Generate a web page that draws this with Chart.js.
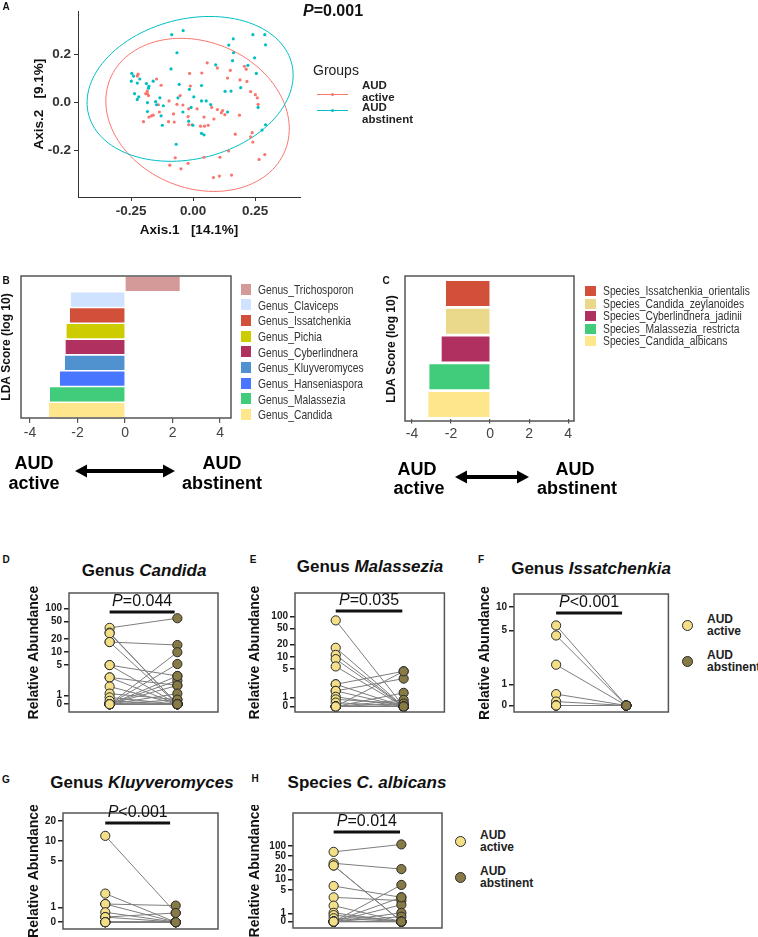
<!DOCTYPE html>
<html>
<head>
<meta charset="utf-8">
<script src="https://cdn.jsdelivr.net/npm/chart.js@4.4.1/dist/chart.umd.min.js"></script>
<style>
  body { margin: 0; width: 758px; height: 937px; position: relative; overflow: hidden; background: #fff;
         font-family: 'Liberation Sans', Arial, sans-serif; color: #111; }
  canvas { position: absolute; }
  .txt { position: absolute; white-space: nowrap; line-height: 1; transform-origin: 0 50%; }
  .key { position: absolute; }
</style>
</head>
<body>
<script>
// ---------------- data ----------------
// A: PCoA, [Axis.1, Axis.2]
const activePoints = [[-0.222,0.118],[-0.147,0.098],[-0.129,0.072],[-0.185,0.048],[-0.191,0.037],[-0.180,0.029],[-0.097,0.007],[-0.065,-0.007],[-0.041,-0.010],[-0.079,-0.047],[-0.018,-0.026],[0.016,-0.026],[0.075,-0.020],[0.098,-0.029],[0.119,-0.033],[0.114,-0.042],[0.128,-0.050],[0.084,-0.068],[0.044,-0.060],[-0.020,-0.058],[-0.076,-0.081],[-0.099,-0.079],[-0.200,-0.079],[-0.178,-0.060],[-0.168,-0.055],[-0.161,-0.052],[-0.136,-0.039],[-0.018,-0.092],[-0.004,-0.092],[0.030,-0.098],[0.046,-0.098],[0.061,-0.094],[0.170,-0.131],[0.238,-0.125],[0.232,-0.142],[0.241,-0.164],[0.187,-0.052],[0.232,0.046],[0.251,0.033],[0.259,0.020],[0.262,-0.007],[0.217,0.088],[0.189,0.094],[0.207,0.151],[0.214,0.139],[0.150,0.134],[0.139,0.102],[0.098,0.144],[0.057,0.165],[0.035,0.123],[-0.014,0.121],[-0.011,0.069],[-0.052,0.029],[0.266,-0.236],[0.289,-0.216],[0.143,-0.201],[0.108,-0.227],[0.044,-0.227],[-0.072,-0.229],[-0.094,-0.260],[-0.049,-0.275],[-0.020,-0.252],[0.082,-0.311],[0.106,-0.305],[0.155,-0.301],[-0.184,0.037],[-0.140,-0.009],[-0.225,0.110]];
const abstinentPoints = [[-0.086,0.282],[-0.040,0.299],[0.162,0.265],[0.241,0.282],[0.289,0.282],[0.292,0.240],[0.144,0.239],[-0.065,0.207],[0.163,0.207],[0.248,0.186],[0.091,0.157],[0.159,0.174],[-0.089,0.140],[0.221,0.155],[0.255,0.121],[-0.247,0.121],[-0.240,0.110],[-0.249,0.089],[-0.215,0.098],[-0.225,0.081],[-0.188,0.079],[-0.178,0.068],[-0.161,0.089],[-0.056,0.076],[0.034,0.071],[-0.015,0.055],[0.153,0.048],[0.192,0.062],[0.129,0.047],[-0.236,0.037],[-0.219,0.024],[-0.225,0.013],[-0.134,0.020],[-0.184,0.000],[-0.151,0.004],[-0.147,-0.009],[-0.120,-0.013],[-0.061,0.020],[-0.008,-0.020],[0.034,0.007],[0.053,0.007],[0.071,-0.008],[-0.041,-0.039],[-0.184,-0.037],[-0.129,-0.055],[0.139,-0.039],[0.262,-0.020],[-0.124,-0.094],[-0.018,-0.077],[-0.001,-0.094],[0.034,-0.128],[0.044,-0.134],[-0.068,-0.173],[0.292,-0.092],[0.278,-0.114],[0.003,0.024],[-0.180,0.060]];
// confidence ellipses: centre x, centre y, semi-axis a, semi-axis b, angle (deg)
const activeEllipse = [0.018, -0.051, 0.383, 0.302, -25];
const abstinentEllipse = [-0.012, 0.057, 0.423, 0.290, 15];

// B: LEfSe genus
const genusLabels = ['Genus_Trichosporon','Genus_Claviceps','Genus_Issatchenkia','Genus_Pichia','Genus_Cyberlindnera','Genus_Kluyveromyces','Genus_Hanseniaspora','Genus_Malassezia','Genus_Candida'];
const genusLda = [2.3, -2.28, -2.32, -2.46, -2.5, -2.53, -2.74, -3.16, -3.2];
const genusColors = ['#d49a9a','#cfe2ff','#d2503a','#cccc00','#b03060','#4f92cf','#4876ff','#40cc7a','#fde68c'];

// C: LEfSe species
const speciesLabels = ['Species_Issatchenkia_orientalis','Species_Candida_zeylanoides','Species_Cyberlindnera_jadinii','Species_Malassezia_restricta','Species_Candida_albicans'];
const speciesLda = [-2.26, -2.26, -2.48, -3.11, -3.16];
const speciesColors = ['#d2503a','#ead98b','#b03060','#40cc7a','#fde68c'];
const ldaTicks = [-4, -2, 0, 2, 4];

// D-H: paired relative abundance (active -> abstinent)
const candidaActive    = [36, 28, 27, 17, 17, 5, 5, 2.6, 2.6, 1.6, 1.1, 0.9, 0.75, 0, 0, 0, 0, 0, 0, 0, 0, 0, 0, 0, 0, 0];
const candidaAbstinent = [60, 0, 0, 14.5, 0, 2.8, 0, 1.7, 0, 0, 0.8, 0, 0, 9.9, 5.3, 2.2, 1.7, 1.1, 2.8, 0.8, 0, 0, 0, 0, 0, 0];
const malasseziaActive    = [80, 16.8, 11.2, 8.8, 5.8, 2.1, 2.1, 1.44, 1.44, 1.03, 0.89, 0.74, 0, 0, 0, 0, 0, 0, 0, 0, 0];
const malasseziaAbstinent = [0, 0, 0, 0, 0, 4.4, 0, 2.9, 0, 0, 0.7, 0, 4.4, 1.29, 0.86, 0.7, 0, 0, 0, 0, 0];
const issatchenkiaActive    = [5.8, 4.3, 1.8, 0.75, 0.6, 0, 0, 0, 0];
const issatchenkiaAbstinent = [0, 0, 0, 0, 0, 0, 0, 0, 0];
const kluyveromycesActive    = [11.9, 1.62, 1.13, 1.13, 0.85, 0.72, 0.72, 0, 0, 0, 0, 0, 0];
const kluyveromycesAbstinent = [0.83, 0, 1.07, 0, 0, 0, 0.83, 0, 0, 0, 0, 0, 0];
const albicansActive    = [66.7, 30.7, 26.3, 26.3, 6.5, 3.0, 1.7, 1.04, 0.89, 0.72, 0, 0, 0, 0, 0, 0, 0, 0, 0, 0];
const albicansAbstinent = [111, 20.6, 0, 0, 3.0, 2.4, 0, 0, 0, 0, 7.0, 1.8, 1.04, 0.8, 3.0, 0, 0, 0, 0, 0];
const ticks100 = [0, 1, 5, 10, 20, 50, 100];
const ticks10 = [0, 1, 5, 10];
const ticks20 = [0, 1, 5, 10, 20];

// ---------------- helpers ----------------
const FONT = "'Liberation Sans', Arial, sans-serif";
const RED = '#F8766D', CYAN = '#00BFC4';
const ACTIVE_FILL = '#f3df88', ABST_FILL = '#877a45';
Chart.defaults.font.family = FONT;
Chart.defaults.color = '#222';

function makeCanvas(left, top, w, h) {
  const c = document.createElement('canvas');
  c.width = w; c.height = h;
  c.style.left = left + 'px'; c.style.top = top + 'px';
  c.style.width = w + 'px'; c.style.height = h + 'px';
  document.body.appendChild(c);
  return c;
}

function addText(html, x, y, css, align, squeeze) {
  const d = document.createElement('div');
  d.className = 'txt';
  d.innerHTML = html;
  d.style.cssText = 'left:' + x + 'px;top:' + y + 'px;' + (css || '');
  let tf = align === 'left' ? 'translate(0,-50%)' : 'translate(-50%,-50%)';
  if (squeeze) tf += ' scaleX(' + squeeze + ')';
  d.style.transform = tf;
  document.body.appendChild(d);
}

function addKey(css) {
  const d = document.createElement('div');
  d.className = 'key';
  d.style.cssText = css;
  document.body.appendChild(d);
}

const baseOpts = {
  responsive: false, maintainAspectRatio: false, animation: false, events: [],
  plugins: { legend: { display: false }, tooltip: { enabled: false } }
};

// ---------------- A: PCoA ----------------
const ellipsePlugin = {
  id: 'ellipses',
  beforeDatasetsDraw(chart) {
    const { ctx, scales: { x, y } } = chart;
    [[activeEllipse, RED], [abstinentEllipse, CYAN]].forEach(([e, col]) => {
      const [cx, cy, a, b, ang] = e;
      const phi = ang * Math.PI / 180;
      ctx.save();
      ctx.strokeStyle = col; ctx.lineWidth = 1;
      ctx.beginPath();
      for (let k = 0; k <= 120; k++) {
        const t = k / 120 * Math.PI * 2;
        const dx = a * Math.cos(t), dy = b * Math.sin(t);
        const px = x.getPixelForValue(cx + dx * Math.cos(phi) - dy * Math.sin(phi));
        const py = y.getPixelForValue(cy + dx * Math.sin(phi) + dy * Math.cos(phi));
        if (k === 0) ctx.moveTo(px, py); else ctx.lineTo(px, py);
      }
      ctx.stroke();
      ctx.restore();
    });
  }
};

new Chart(makeCanvas(0, 0, 400, 245), {
  type: 'scatter',
  data: { datasets: [
    { data: abstinentPoints.map(p => ({ x: p[0], y: p[1] })), pointRadius: 1.6, backgroundColor: CYAN, borderWidth: 0 },
    { data: activePoints.map(p => ({ x: p[0], y: p[1] })), pointRadius: 1.6, backgroundColor: RED, borderWidth: 0 }
  ] },
  options: Object.assign({}, baseOpts, {
    layout: { padding: { top: 0, right: 100, bottom: 0, left: 0 } },
    scales: {
      x: {
        min: -0.464, max: 0.431,
        afterFit: s => { s.height = 48; },
        afterBuildTicks: s => { s.ticks = [-0.25, 0, 0.25].map(v => ({ value: v })); },
        ticks: { callback: v => v.toFixed(2), font: { size: 13.5, weight: 'bold' }, color: '#333', padding: 2 },
        grid: { drawOnChartArea: false, tickLength: 4, color: '#333' },
        border: { color: '#333', width: 1 },
        title: { display: true, text: 'Axis.1   [14.1%]', font: { size: 13.5, weight: 'bold', lineHeight: 1 }, color: '#111', padding: { top: 0, bottom: 8 } }
      },
      y: {
        min: -0.392, max: 0.38,
        afterFit: s => { s.width = 78; },
        afterBuildTicks: s => { s.ticks = [-0.2, 0, 0.2].map(v => ({ value: v })); },
        ticks: { callback: v => v.toFixed(1), font: { size: 13.5, weight: 'bold' }, color: '#333', padding: 3 },
        grid: { drawOnChartArea: false, tickLength: 4, color: '#333' },
        border: { color: '#333', width: 1 },
        title: { display: true, text: 'Axis.2   [9.1%]', font: { size: 13.5, weight: 'bold', lineHeight: 1 }, color: '#111', padding: { top: 33, bottom: 0 } }
      }
    }
  }),
  plugins: [ellipsePlugin]
});

addText('A', 6, 7, 'font-size:10px;font-weight:bold;');
addText('<i>P</i>=0.001', 333, 11, 'font-size:16px;font-weight:bold;');
addText('Groups', 313, 70, 'font-size:14px;color:#222;', 'left');
[[RED, 94, 86, 'active', 98], [CYAN, 110, 108, 'abstinent', 120]].forEach(([col, y, y1, word, y2]) => {
  addKey('left:317px;top:' + (y - 0.5) + 'px;width:31px;height:1px;background:' + col + ';');
  addKey('left:331px;top:' + (y - 1.5) + 'px;width:3px;height:3px;border-radius:50%;background:' + col + ';');
  addText('AUD', 362, y1, 'font-size:11.5px;font-weight:bold;color:#222;', 'left');
  addText(word, 362, y2, 'font-size:11.5px;font-weight:bold;color:#222;', 'left');
});

// ---------------- B, C: LDA bars ----------------
function boxPlugin(outTop, outBottom) {
  return {
    id: 'box',
    afterDraw(chart) {
      const { ctx, chartArea: a } = chart;
      ctx.save();
      ctx.strokeStyle = '#555'; ctx.lineWidth = 1.5;
      ctx.strokeRect(a.left, a.top - outTop, a.right - a.left, a.bottom - a.top + outTop + outBottom);
      ctx.restore();
    }
  };
}

function arrowPlugin(x1, x2, y) {
  return {
    id: 'arrow',
    afterDraw(chart) {
      const ctx = chart.ctx;
      ctx.save();
      ctx.fillStyle = '#000'; ctx.strokeStyle = '#000'; ctx.lineWidth = 4;
      ctx.beginPath(); ctx.moveTo(x1 + 8, y); ctx.lineTo(x2 - 8, y); ctx.stroke();
      ctx.beginPath(); ctx.moveTo(x1, y); ctx.lineTo(x1 + 12, y - 6.5); ctx.lineTo(x1 + 12, y + 6.5); ctx.closePath(); ctx.fill();
      ctx.beginPath(); ctx.moveTo(x2, y); ctx.lineTo(x2 - 12, y - 6.5); ctx.lineTo(x2 - 12, y + 6.5); ctx.closePath(); ctx.fill();
      ctx.restore();
    }
  };
}

function ldaChart(c) {
  new Chart(makeCanvas(c.left, c.top, c.w, c.h), {
    type: 'bar',
    data: { labels: c.labels, datasets: [{ data: c.values, backgroundColor: c.colors, borderWidth: 0, barPercentage: c.barPct, categoryPercentage: 1 }] },
    options: Object.assign({}, baseOpts, {
      indexAxis: 'y',
      layout: { padding: c.padding },
      scales: {
        x: {
          min: c.min, max: c.max,
          afterFit: s => { s.height = 28; },
          afterBuildTicks: s => { s.ticks = ldaTicks.map(v => ({ value: v })); },
          ticks: { font: { size: 14 }, color: '#444', padding: 2 },
          grid: { drawOnChartArea: false, tickLength: 5, color: '#555', lineWidth: 1.2 },
          border: { display: false }
        },
        y: {
          afterFit: s => { s.width = c.axisW; },
          ticks: { display: false },
          grid: { display: false },
          border: { display: false },
          title: { display: true, text: 'LDA Score (log 10)', font: { size: 12, weight: 'bold', lineHeight: 1 }, color: '#111', padding: { top: c.titlePad, bottom: 0 } }
        }
      }
    }),
    plugins: [boxPlugin(c.outTop, c.outBottom), arrowPlugin(c.arrow[0] - c.left, c.arrow[1] - c.left, c.arrow[2] - c.top)]
  });
  c.labels.forEach((lab, i) => {
    const y = c.legY + i * c.legStep;
    addKey('left:' + c.legX + 'px;top:' + (y - c.keyH / 2) + 'px;width:' + c.keyW + 'px;height:' + c.keyH + 'px;background:' + c.colors[i] + ';');
    addText(lab, c.legTextX, y, 'font-size:' + c.legFont + 'px;color:#333;', 'left', c.squeeze);
  });
}

ldaChart({
  left: 0, top: 272, w: 380, h: 228, axisW: 21, titlePad: 1,
  padding: { top: 4, right: 149, bottom: 54, left: 0 },
  labels: genusLabels, values: genusLda, colors: genusColors, barPct: 0.9,
  min: -4.38, max: 4.46, outTop: 0, outBottom: 0,
  arrow: [75, 175, 471],
  legX: 241, legTextX: 258, legY: 289, legStep: 15.67, keyW: 10, keyH: 11, legFont: 13, squeeze: 0.79
});
ldaChart({
  left: 378, top: 272, w: 380, h: 228, axisW: 27, titlePad: 8,
  padding: { top: 7.5, right: 184, bottom: 53.5, left: 0 },
  labels: speciesLabels, values: speciesLda, colors: speciesColors, barPct: 0.9,
  min: -4.36, max: 4.3, outTop: 3.5, outBottom: 2.5,
  arrow: [455, 529, 477],
  legX: 585, legTextX: 603, legY: 291, legStep: 12.5, keyW: 11, keyH: 10, legFont: 12, squeeze: 0.86
});

addText('B', 6, 281, 'font-size:10px;font-weight:bold;');
addText('C', 386, 281, 'font-size:10px;font-weight:bold;');
const audCss = 'font-size:18px;font-weight:bold;color:#000;';
addText('AUD', 34, 463, audCss); addText('active', 34, 483, audCss);
addText('AUD', 222, 463, audCss); addText('abstinent', 222, 483, audCss);
addText('AUD', 417, 469, audCss); addText('active', 419, 488, audCss);
addText('AUD', 575, 469, audCss); addText('abstinent', 577, 488, audCss);

// ---------------- D-H: paired dot plots ----------------
function pPlugin(label, offset, pEnd) {
  return {
    id: 'pval',
    afterDraw(chart) {
      const { ctx, chartArea: a, scales: { x } } = chart;
      const x1 = x.getPixelForValue(1), x2 = x.getPixelForValue(pEnd);
      const y = a.top + offset;
      ctx.save();
      ctx.strokeStyle = '#555'; ctx.lineWidth = 1.5;
      ctx.strokeRect(a.left, a.top, a.right - a.left, a.bottom - a.top);
      ctx.strokeStyle = '#111'; ctx.lineWidth = 3;
      ctx.beginPath(); ctx.moveTo(x1, y); ctx.lineTo(x2, y); ctx.stroke();
      ctx.fillStyle = '#111'; ctx.textBaseline = 'bottom';
      ctx.font = 'italic 16px ' + FONT;
      const wP = ctx.measureText('P').width;
      ctx.font = '16px ' + FONT;
      const wR = ctx.measureText(label).width;
      const sx = (x1 + x2) / 2 - (wP + wR) / 2;
      ctx.font = 'italic 16px ' + FONT; ctx.fillText('P', sx, y - 2);
      ctx.font = '16px ' + FONT; ctx.fillText(label, sx + wP, y - 2);
      ctx.restore();
    }
  };
}

function pairedChart(c) {
  const pos = v => (v === 0 ? c.zero : v);
  const lines = c.active.map((v, i) => ({
    data: [{ x: 1, y: pos(v) }, { x: 2, y: pos(c.abstinent[i]) }],
    showLine: true, borderColor: '#7d7d7d', borderWidth: 1, pointRadius: 0, order: 3
  }));
  const dots = [
    { data: c.active.map(v => ({ x: 1, y: pos(v) })), pointRadius: 4.6, backgroundColor: ACTIVE_FILL, borderColor: '#2b2b2b', borderWidth: 1, order: 1 },
    { data: c.abstinent.map(v => ({ x: 2, y: pos(v) })), pointRadius: 4.6, backgroundColor: ABST_FILL, borderColor: '#2b2b2b', borderWidth: 1, order: 1 }
  ];
  new Chart(makeCanvas(c.left, c.top, c.w, c.h), {
    type: 'scatter',
    data: { datasets: dots.concat(lines) },
    options: Object.assign({}, baseOpts, {
      layout: { padding: c.padding },
      scales: {
        x: { display: false, min: 0.4, max: 2.6 },
        y: {
          type: 'logarithmic', min: c.min, max: c.max,
          afterFit: s => { s.width = c.axisW; },
          afterBuildTicks: s => { s.ticks = c.ticks.map(v => ({ value: pos(v) })); },
          ticks: { autoSkip: false, padding: 2, font: { size: 10, weight: 'bold' }, color: '#1a1a1a',
                   callback: v => (v === c.zero ? '0' : String(v)) },
          grid: { drawOnChartArea: false, tickLength: 5, color: '#222', lineWidth: 1.5 },
          border: { display: false },
          title: { display: true, text: 'Relative Abundance', font: { size: 14, weight: 'bold', lineHeight: 1 }, color: '#111', padding: { top: c.titlePad, bottom: 0 } }
        }
      }
    }),
    plugins: [pPlugin(c.p, c.pOffset, c.pEnd)]
  });
  addText(c.title, c.titleX, c.titleY, 'font-size:17px;font-weight:bold;color:#111;');
  addText(c.letter, c.letterX, c.letterY, 'font-size:10px;font-weight:bold;');
}

pairedChart({
  left: 0, top: 585, w: 225, h: 135, axisW: 69, titlePad: 27,
  padding: { top: 5, right: 7, bottom: 8, left: 0 },
  active: candidaActive, abstinent: candidaAbstinent, ticks: ticks100,
  min: 0.415, max: 229, zero: 0.628,
  p: '=0.044', pOffset: 19, pEnd: 1.96,
  title: 'Genus <i>Candida</i>', titleX: 144, titleY: 570, letter: 'D', letterX: 6, letterY: 560
});
pairedChart({
  left: 245, top: 585, w: 205, h: 135, axisW: 50, titlePad: 3,
  padding: { top: 6, right: 5, bottom: 8, left: 0 },
  active: malasseziaActive, abstinent: malasseziaAbstinent, ticks: ticks100,
  min: 0.433, max: 381, zero: 0.592,
  p: '=0.035', pOffset: 18, pEnd: 1.98,
  title: 'Genus <i>Malassezia</i>', titleX: 370, titleY: 566, letter: 'E', letterX: 253, letterY: 560
});
pairedChart({
  left: 475, top: 585, w: 199, h: 135, axisW: 39, titlePad: 3,
  padding: { top: 9, right: 5, bottom: 5, left: 0 },
  active: issatchenkiaActive, abstinent: issatchenkiaAbstinent, ticks: ticks10,
  min: 0.44, max: 14.8, zero: 0.534,
  p: '<0.001', pOffset: 19, pEnd: 1.94,
  title: 'Genus <i>Issatchenkia</i>', titleX: 591, titleY: 568, letter: 'F', letterX: 481, letterY: 560
});
pairedChart({
  left: 0, top: 805, w: 225, h: 132, axisW: 63, titlePad: 27,
  padding: { top: 5, right: 7, bottom: 8, left: 0 },
  active: kluyveromycesActive, abstinent: kluyveromycesAbstinent, ticks: ticks20,
  min: 0.477, max: 26.2, zero: 0.604,
  p: '<0.001', pOffset: 10, pEnd: 1.92,
  title: 'Genus <i>Kluyveromyces</i>', titleX: 142, titleY: 782, letter: 'G', letterX: 6, letterY: 780
});
pairedChart({
  left: 245, top: 805, w: 205, h: 132, axisW: 48, titlePad: 3,
  padding: { top: 5, right: 8, bottom: 9, left: 0 },
  active: albicansActive, abstinent: albicansAbstinent, ticks: ticks100,
  min: 0.37, max: 948, zero: 0.573,
  p: '=0.014', pOffset: 19, pEnd: 1.98,
  title: 'Species <i>C. albicans</i>', titleX: 367, titleY: 782, letter: 'H', letterX: 255, letterY: 779
});

// group legends next to F and H
[[687, 625], [460, 841]].forEach(([x, y]) => {
  [[ACTIVE_FILL, 0, 'active'], [ABST_FILL, 35.5, 'abstinent']].forEach(([fill, dy, word]) => {
    addKey('left:' + (x - 5) + 'px;top:' + (y + dy - 5) + 'px;width:9px;height:9px;border-radius:50%;border:1px solid #2b2b2b;background:' + fill + ';');
    addText('AUD', x + 20, y + dy - 6, 'font-size:12px;font-weight:bold;color:#222;', 'left');
    addText(word, x + 20, y + dy + 6, 'font-size:12px;font-weight:bold;color:#222;', 'left');
  });
});
</script>
</body>
</html>
